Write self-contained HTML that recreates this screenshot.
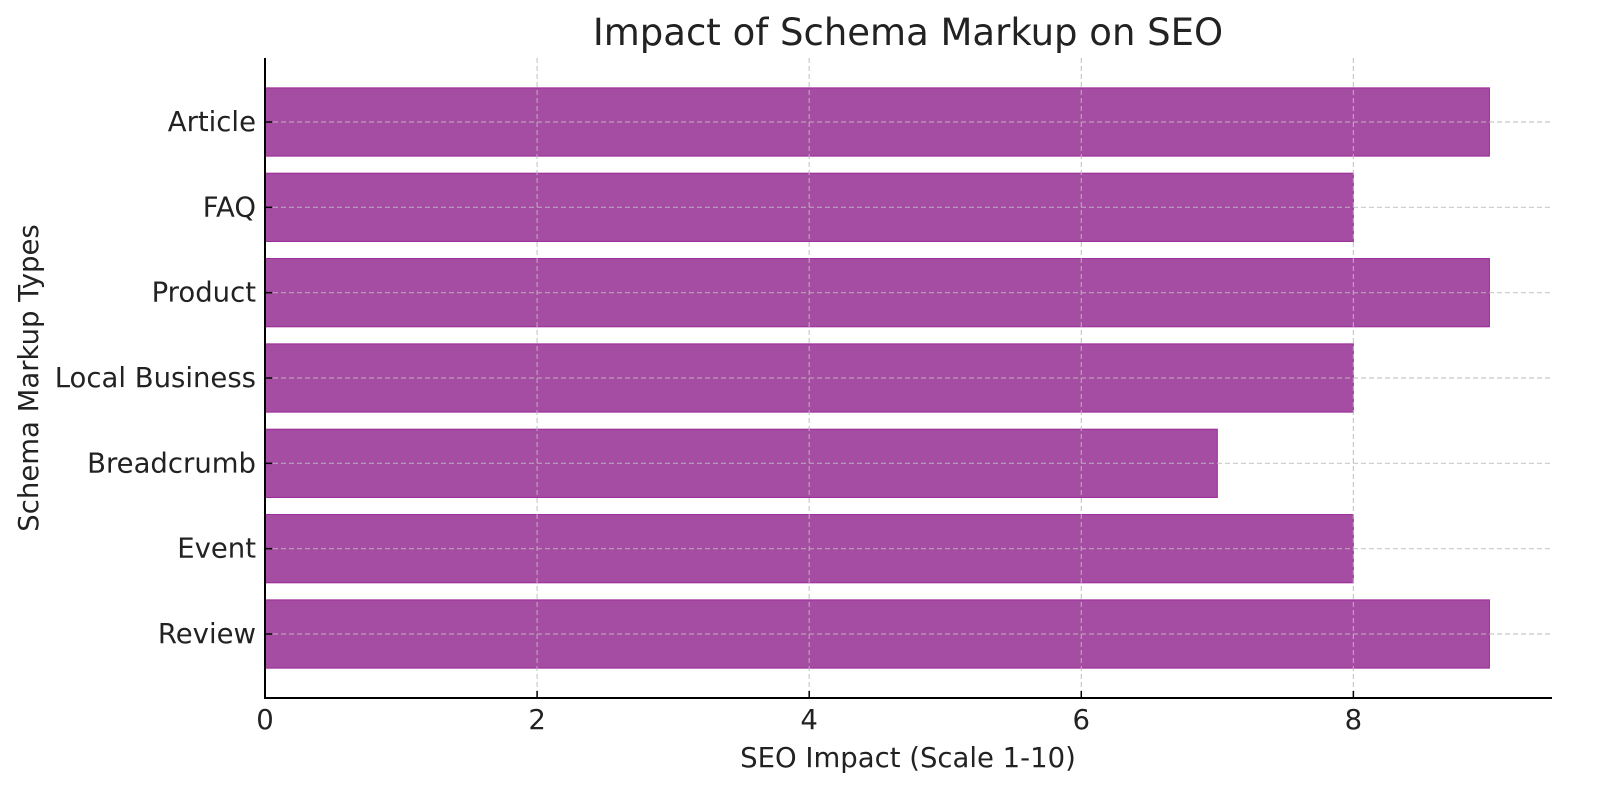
<!DOCTYPE html>
<html><head><meta charset="utf-8"><style>
body{margin:0;background:#fff;}
svg{display:block;font-family:"DejaVu Sans","Liberation Sans",sans-serif;}
</style></head><body>
<svg id="chart" width="1600" height="803" viewBox="0 0 1600 803" xmlns="http://www.w3.org/2000/svg">
<text x="908" y="45" font-size="37" text-anchor="middle" fill="#222">Impact of Schema Markup on SEO</text>
<text x="908" y="767" font-size="27.5" text-anchor="middle" fill="#222">SEO Impact (Scale 1-10)</text>
<text transform="translate(38,378) rotate(-90)" font-size="27.5" text-anchor="middle" fill="#222">Schema Markup Types</text>
<g id="bars"></g><g id="grid"></g><g id="axes"></g>
</svg>
<script>
const categories = ["Review","Event","Breadcrumb","Local Business","Product","FAQ","Article"];
const values = [9,8,7,8,9,8,9];
const xTicks = [0,2,4,6,8];

const NS="http://www.w3.org/2000/svg";
const L=265,R=1552,T=58,B=698,XMAX=9.46,YMIN=-0.75,YMAX=6.75;
const xs=v=>L+(v/XMAX)*(R-L);
const ys=i=>B-(i-YMIN)/(YMAX-YMIN)*(B-T);
const bh=0.8*(B-T)/(YMAX-YMIN);
function mk(tag,attrs,parent){const e=document.createElementNS(NS,tag);for(const k in attrs)e.setAttribute(k,attrs[k]);parent.appendChild(e);return e;}
const gb=document.getElementById('bars'),gg=document.getElementById('grid'),ga=document.getElementById('axes');
categories.forEach((c,i)=>{
  const r=mk('rect',{x:xs(0),y:ys(i)-bh/2,width:xs(values[i])-xs(0),height:bh,fill:'#a54ca3',stroke:'#9a2a98','stroke-width':1},gb);
  
  
  const gl=mk('line',{x1:L,x2:R,y1:ys(i),y2:ys(i),stroke:'#bbb','stroke-width':1.2,'stroke-dasharray':'5,3',opacity:0.8},gg);
  
  
  const tk=mk('line',{x1:L,x2:L+7,y1:ys(i),y2:ys(i),stroke:'#000','stroke-width':1.5},ga);
  
  
  const t=mk('text',{x:L-9,y:ys(i)+9,'font-size':27.5,'text-anchor':'end',fill:'#222'},ga);
  t.textContent=c;
  
  
});
xTicks.forEach(v=>{
  if(v>0){const gl=mk('line',{x1:xs(v),x2:xs(v),y1:T,y2:B,stroke:'#bbb','stroke-width':1.2,'stroke-dasharray':'5,3',opacity:0.8},gg);
  
  }
  const tk=mk('line',{x1:xs(v),x2:xs(v),y1:B,y2:B-7,stroke:'#000','stroke-width':1.5},ga);
  
  
  const t=mk('text',{x:xs(v),y:B+31,'font-size':27.5,'text-anchor':'middle',fill:'#222'},ga);
  t.textContent=v;
  
  
});
const ly=mk('line',{x1:L,x2:L,y1:T,y2:B+1,stroke:'#000','stroke-width':2},ga);


const lx=mk('line',{x1:L-1,x2:R,y1:B,y2:B,stroke:'#000','stroke-width':2},ga);


</script>
</body></html>
